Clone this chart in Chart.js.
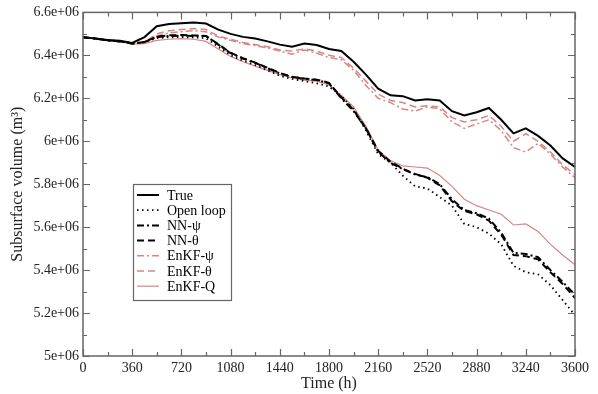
<!DOCTYPE html>
<html>
<head>
<meta charset="utf-8">
<script src="https://cdn.jsdelivr.net/npm/chart.js@4/dist/chart.umd.min.js"></script>
<style>
  html, body { margin: 0; padding: 0; background: #fff; }
  #wrap { width: 598px; height: 394px; }
</style>
</head>
<body>
<div id="wrap"><canvas id="vol"></canvas></div>
<script>
// time in hours, volumes in units of 1e6 m3
const times = [0, 90, 180, 270, 360, 450, 540, 630, 720, 810, 900, 990, 1080, 1170, 1260, 1350, 1440, 1530, 1620, 1710,
  1800, 1890, 1980, 2070, 2160, 2250, 2340, 2430, 2520, 2610, 2700, 2790, 2880, 2970, 3060, 3150, 3240, 3330, 3420, 3510, 3600];

const trueVol = [6.484, 6.478, 6.472, 6.468, 6.458, 6.485, 6.536, 6.546, 6.55, 6.553, 6.548, 6.52, 6.50, 6.486, 6.478, 6.465, 6.45, 6.44, 6.455, 6.448,
  6.43, 6.42, 6.37, 6.31, 6.245, 6.214, 6.21, 6.19, 6.195, 6.19, 6.14, 6.12, 6.135, 6.155, 6.10, 6.037, 6.06, 6.025, 5.98, 5.92, 5.88];
const openLoop = [6.484, 6.478, 6.47, 6.465, 6.455, 6.462, 6.48, 6.484, 6.485, 6.483, 6.48, 6.44, 6.40, 6.375, 6.355, 6.33, 6.305, 6.29, 6.28, 6.27,
  6.255, 6.21, 6.15, 6.05, 5.94, 5.90, 5.84, 5.79, 5.78, 5.74, 5.70, 5.615, 5.60, 5.57, 5.52, 5.42, 5.39, 5.38, 5.33, 5.26, 5.19];
const nnPsi = [6.484, 6.478, 6.47, 6.465, 6.455, 6.462, 6.485, 6.49, 6.492, 6.49, 6.49, 6.45, 6.41, 6.385, 6.365, 6.34, 6.316, 6.30, 6.29, 6.285,
  6.27, 6.20, 6.14, 6.06, 5.95, 5.90, 5.87, 5.845, 5.833, 5.80, 5.73, 5.68, 5.665, 5.64, 5.575, 5.48, 5.475, 5.46, 5.40, 5.345, 5.285];
const nnTheta = [6.484, 6.478, 6.47, 6.465, 6.455, 6.462, 6.487, 6.493, 6.495, 6.493, 6.49, 6.452, 6.412, 6.387, 6.366, 6.342, 6.318, 6.30, 6.292, 6.287,
  6.272, 6.205, 6.145, 6.06, 5.955, 5.905, 5.872, 5.848, 5.83, 5.795, 5.72, 5.675, 5.66, 5.63, 5.565, 5.47, 5.465, 5.45, 5.39, 5.335, 5.27];
const enkfPsi = [6.484, 6.478, 6.47, 6.466, 6.455, 6.462, 6.49, 6.505, 6.51, 6.515, 6.51, 6.485, 6.47, 6.455, 6.445, 6.435, 6.42, 6.405, 6.425, 6.41,
  6.39, 6.38, 6.33, 6.26, 6.20, 6.18, 6.15, 6.14, 6.16, 6.15, 6.09, 6.06, 6.08, 6.10, 6.05, 5.97, 5.95, 5.99, 5.94, 5.88, 5.83];
const enkfTheta = [6.484, 6.478, 6.47, 6.466, 6.455, 6.462, 6.50, 6.515, 6.52, 6.525, 6.52, 6.49, 6.475, 6.46, 6.45, 6.44, 6.425, 6.42, 6.43, 6.42,
  6.40, 6.39, 6.34, 6.28, 6.22, 6.19, 6.18, 6.16, 6.165, 6.16, 6.11, 6.09, 6.10, 6.12, 6.07, 6.00, 6.035, 6.00, 5.95, 5.89, 5.845];
const enkfQ = [6.484, 6.478, 6.47, 6.465, 6.452, 6.455, 6.47, 6.475, 6.478, 6.475, 6.465, 6.43, 6.395, 6.37, 6.35, 6.33, 6.31, 6.295, 6.285, 6.28,
  6.262, 6.215, 6.16, 6.07, 5.96, 5.91, 5.885, 5.88, 5.875, 5.84, 5.79, 5.73, 5.70, 5.68, 5.66, 5.61, 5.615, 5.58, 5.52, 5.47, 5.425];

const pink = '#d98585';
const frameColor = '#666';
const serif = '"Liberation Serif", "DejaVu Serif", serif';

function pts(vals) {
    return vals.map((v, i) => ({ x: times[i], y: v }));
}

const series = [
    { label: 'True', data: trueVol, color: '#000', width: 2, dash: [] },
    { label: 'Open loop', data: openLoop, color: '#000', width: 1.8, dash: [1.5, 3.5] },
    { label: 'NN-ψ', data: nnPsi, color: '#000', width: 2, dash: [7, 3, 2, 3] },
    { label: 'NN-θ', data: nnTheta, color: '#000', width: 2, dash: [7, 4] },
    { label: 'EnKF-ψ', data: enkfPsi, color: pink, width: 1.5, dash: [7, 3, 2, 3] },
    { label: 'EnKF-θ', data: enkfTheta, color: pink, width: 1.5, dash: [7, 4] },
    { label: 'EnKF-Q', data: enkfQ, color: pink, width: 1.2, dash: [] }
];

// inward ticks on all four sides plus the frame
const frameTicks = {
    id: 'frameTicks',
    afterDatasetsDraw(chart) {
        const ctx = chart.ctx, a = chart.chartArea;
        const xs = chart.scales.x, ys = chart.scales.y;
        ctx.save();
        ctx.strokeStyle = frameColor;
        ctx.lineWidth = 1.2;
        ctx.beginPath();
        for (let t = 0; t <= 3600; t += 180) {
            const px = Math.round(xs.getPixelForValue(t)) + 0.5;
            const len = (t % 360 === 0) ? 7 : 4;
            ctx.moveTo(px, a.bottom); ctx.lineTo(px, a.bottom - len);
            ctx.moveTo(px, a.top); ctx.lineTo(px, a.top + len);
        }
        for (let k = 0; k <= 16; k++) {
            const v = 5 + k * 0.1;
            const py = Math.round(ys.getPixelForValue(v)) + 0.5;
            const len = (k % 2 === 0) ? 7 : 4;
            ctx.moveTo(a.left, py); ctx.lineTo(a.left + len, py);
            ctx.moveTo(a.right, py); ctx.lineTo(a.right - len, py);
        }
        ctx.stroke();
        ctx.lineWidth = 1.5;
        ctx.strokeRect(a.left, a.top, a.right - a.left, a.bottom - a.top);
        ctx.restore();
    }
};

// boxed legend inside the plot, built from the datasets
const boxLegend = {
    id: 'boxLegend',
    afterDraw(chart) {
        const ctx = chart.ctx;
        const bx = 133, by = 184, bw = 98, bh = 116;
        ctx.save();
        ctx.fillStyle = '#fff';
        ctx.fillRect(bx, by, bw, bh);
        ctx.strokeStyle = frameColor;
        ctx.lineWidth = 1.2;
        ctx.strokeRect(bx + 0.5, by + 0.5, bw, bh);
        ctx.font = '14px ' + serif;
        ctx.textBaseline = 'middle';
        chart.data.datasets.forEach((ds, i) => {
            const y = by + 11 + i * 15.2;
            ctx.beginPath();
            ctx.strokeStyle = ds.borderColor;
            ctx.lineWidth = ds.borderWidth;
            ctx.setLineDash(ds.borderDash);
            ctx.moveTo(137, y);
            ctx.lineTo(159, y);
            ctx.stroke();
            ctx.setLineDash([]);
            ctx.fillStyle = '#000';
            ctx.fillText(ds.label, 167, y + 1);
        });
        ctx.restore();
    }
};

const ctx = document.getElementById('vol').getContext('2d');
const volChart = new Chart(ctx, {
    type: 'line',
    data: {
        datasets: series.map(s => ({
            label: s.label,
            data: pts(s.data),
            borderColor: s.color,
            borderWidth: s.width,
            borderDash: s.dash,
            pointRadius: 0,
            fill: false,
            tension: 0
        }))
    },
    options: {
        responsive: true,
        maintainAspectRatio: false,
        animation: false,
        layout: { padding: { left: 0, top: 12, right: 23, bottom: 0 } },
        plugins: {
            legend: { display: false },
            tooltip: { enabled: false }
        },
        scales: {
            x: {
                type: 'linear',
                min: 0,
                max: 3600,
                grid: { display: false, drawTicks: false },
                border: { display: false },
                ticks: {
                    stepSize: 360,
                    padding: 4,
                    maxRotation: 0,
                    color: '#222',
                    font: { family: serif, size: 14 },
                    callback: v => String(v)
                },
                title: {
                    display: true,
                    text: 'Time (h)',
                    color: '#222',
                    font: { family: serif, size: 16 },
                    padding: { top: 0, bottom: 1 }
                },
                afterFit(scale) { scale.height = 38; }
            },
            y: {
                min: 5,
                max: 6.6,
                grid: { display: false, drawTicks: false },
                border: { display: false },
                ticks: {
                    stepSize: 0.2,
                    padding: 4,
                    color: '#222',
                    font: { family: serif, size: 14 },
                    callback: v => (Math.round(v * 10) / 10) + 'e+06'
                },
                title: {
                    display: true,
                    text: 'Subsurface volume (m³)',
                    color: '#222',
                    font: { family: serif, size: 16 },
                    padding: { top: 8, bottom: 0 }
                },
                afterFit(scale) { scale.width = 83; }
            }
        }
    },
    plugins: [frameTicks, boxLegend]
});
</script>
</body>
</html>
